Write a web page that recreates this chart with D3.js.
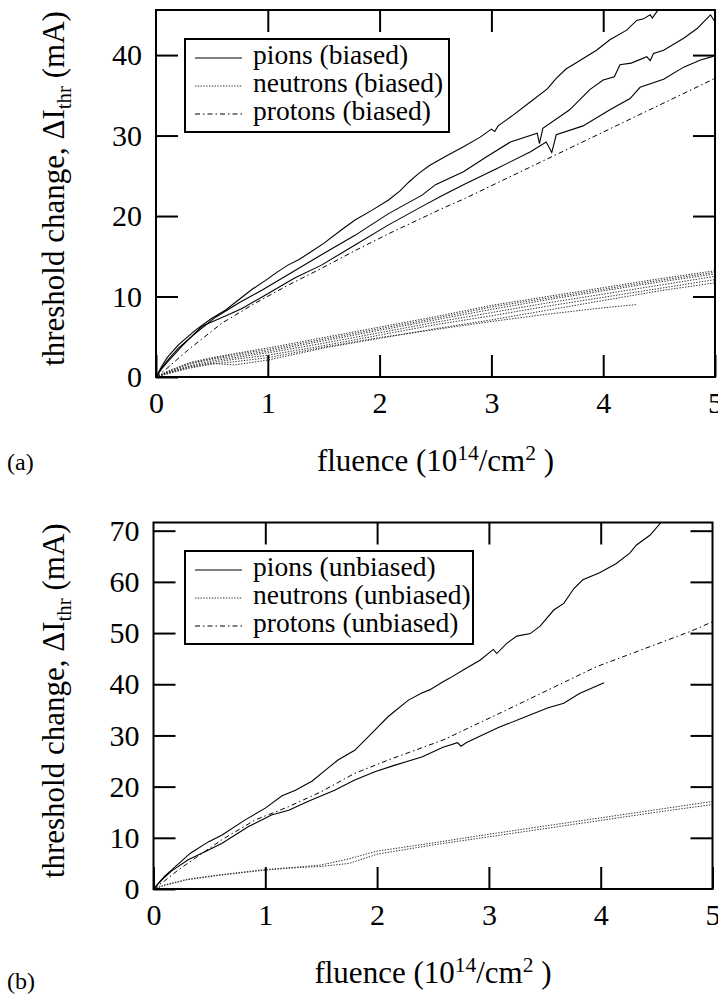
<!DOCTYPE html>
<html><head><meta charset="utf-8">
<script src="https://cdn.jsdelivr.net/npm/d3@7"></script>
<style>
body{margin:0;background:#fff}
svg{display:block}
svg text{font-family:"Liberation Serif",serif}
</style>
</head><body>
<svg id="c" width="718" height="995"></svg>
<script>
// ---------- tick labels ----------
const xTicks = [0, 1, 2, 3, 4, 5];
const yTicksA = [0, 10, 20, 30, 40];
const yTicksB = [0, 10, 20, 30, 40, 50, 60, 70];

// ---------- panel (a): biased ----------
const legendA = ["pions (biased)", "neutrons (biased)", "protons (biased)"];
const pionsBiased1 = [[0,0],[0.05,1.3],[0.1,2.4],[0.2,4.0],[0.35,5.8],[0.5,7.3],[0.62,8.3],[0.74,9.6],[0.86,10.9],[0.98,12.0],[1.08,13.0],[1.18,13.9],[1.28,14.6],[1.39,15.6],[1.5,16.6],[1.66,18.3],[1.78,19.5],[1.93,20.7],[2.08,22.0],[2.18,23.1],[2.26,24.2],[2.35,25.3],[2.45,26.3],[2.6,27.5],[2.75,28.6],[2.9,29.8],[3.0,30.8],[3.03,30.5],[3.06,31.2],[3.2,32.6],[3.35,34.2],[3.5,35.8],[3.58,37.1],[3.67,38.3],[3.73,38.8],[3.94,40.6],[4.06,41.9],[4.21,43.1],[4.3,44.3],[4.36,44.5],[4.42,45.0],[4.44,44.6],[4.48,45.4],[4.52,46.2]];
const pionsBiased2 = [[0,0],[0.05,1.1],[0.1,2.0],[0.2,3.6],[0.35,5.4],[0.53,7.4],[0.74,9.2],[0.95,10.8],[1.18,12.7],[1.48,15.2],[1.78,17.6],[2.08,20.3],[2.38,22.6],[2.5,23.9],[2.75,25.5],[2.95,27.3],[3.17,29.2],[3.41,30.3],[3.43,29.0],[3.46,30.9],[3.7,33.2],[3.88,35.7],[4.0,36.9],[4.1,37.3],[4.15,38.8],[4.25,39.0],[4.39,39.8],[4.42,39.3],[4.45,40.2],[4.54,40.6],[4.72,42.1],[4.84,43.3],[4.96,45.0],[5.0,44.1]];
const pionsBiased3 = [[0,0],[0.05,1.0],[0.1,1.8],[0.23,3.8],[0.41,6.3],[0.56,7.2],[0.77,8.5],[0.98,10.2],[1.24,12.3],[1.48,13.9],[1.78,16.4],[2.08,18.9],[2.38,21.2],[2.57,22.6],[2.75,23.9],[3.05,25.9],[3.35,28.0],[3.49,29.2],[3.54,27.9],[3.58,30.1],[3.82,31.2],[4.06,33.2],[4.24,34.6],[4.33,36.0],[4.54,37.0],[4.72,38.5],[4.87,39.4],[5.0,39.9]];
const protonsBiased = [[0,0],[0.1,1.1],[0.29,3.4],[0.59,6.7],[0.89,9.2],[1.18,11.4],[1.48,13.5],[1.78,15.7],[2.08,17.8],[2.57,21.0],[2.75,22.1],[3.5,27.1],[4.25,32.1],[5.0,37.1]];
const neutronFluence = [0,0.1,0.3,0.5,0.7,1,1.5,2,2.5,3,3.5,4,4.5,5];
const neutronsBiased1 = [0,0.7,1.8,2.4,2.9,3.6,4.9,6.2,7.5,8.9,10.0,11.1,12.2,13.2];
const neutronsBiased2 = [0,0.6,1.7,2.3,2.8,3.4,4.7,6.0,7.3,8.7,9.8,10.9,12.0,13.0];
const neutronsBiased3 = [0,0.6,1.6,2.2,2.6,3.2,4.5,5.8,7.1,8.4,9.6,10.7,11.8,12.8];
const neutronsBiased4 = [0,0.5,1.4,2.0,2.4,3.0,4.2,5.5,6.8,8.0,9.2,10.3,11.4,12.5];
const neutronsBiased5 = [0,0.5,1.3,1.8,2.2,2.7,3.9,5.2,6.5,7.6,8.8,9.9,11.0,12.1];
const neutronsBiased6 = [0,0.4,1.2,1.7,1.5,2.1,3.6,4.8,6.0,7.1,8.3,9.5,10.7,11.7];
const neutronFluence7 = [0,0.1,0.3,0.5,0.7,1,1.5,2,2.5,3,3.5,4,4.3];
const neutronsBiased7 = [0,0.4,1.1,1.6,1.9,2.4,3.7,4.9,5.9,6.9,7.8,8.6,9.0];

// ---------- panel (b): unbiased ----------
const legendB = ["pions (unbiased)", "neutrons (unbiased)", "protons (unbiased)"];
const pionsUnbiased1 = [[0,0],[0.05,1.3],[0.1,2.5],[0.16,3.7],[0.33,7.0],[0.49,9.2],[0.61,10.5],[0.82,13.5],[1.0,15.8],[1.15,18.2],[1.27,19.3],[1.42,21.1],[1.56,23.6],[1.65,25.2],[1.8,27.1],[1.92,29.7],[2.1,33.7],[2.28,36.9],[2.4,38.3],[2.47,38.9],[2.59,40.5],[2.65,41.2],[2.77,42.8],[2.92,44.7],[3.04,46.8],[3.07,46.0],[3.16,48.0],[3.25,49.4],[3.37,49.9],[3.46,51.4],[3.58,54.5],[3.67,55.8],[3.76,58.7],[3.84,60.4],[3.99,61.8],[4.14,63.6],[4.26,65.6],[4.32,67.2],[4.44,69.1],[4.53,71.4],[4.58,72.5]];
const pionsUnbiased2 = [[0,0],[0.05,1.2],[0.1,2.3],[0.16,3.5],[0.31,5.7],[0.46,7.3],[0.61,8.9],[0.85,12.2],[1.06,14.5],[1.21,15.4],[1.38,17.1],[1.62,19.3],[1.8,21.3],[1.98,22.9],[2.16,24.2],[2.4,25.8],[2.59,27.7],[2.72,28.6],[2.75,27.9],[2.8,28.6],[3.08,31.5],[3.3,33.4],[3.53,35.4],[3.67,36.3],[3.81,38.2],[4.03,40.3]];
const protonsUnbiased = [[0,0],[0.1,1.6],[0.22,3.7],[0.61,9.6],[0.91,13.5],[1.21,16.1],[1.5,19.0],[1.8,22.6],[2.1,25.2],[2.59,29.1],[3.16,35.0],[3.96,43.4],[4.8,50.3],[5.0,52.2]];
const neutronFluenceB = [0,0.1,0.3,0.6,1.0,1.3,1.5,1.75,2.0,2.5,3.0,3.5,4.0,4.5,5.0];
const neutronsUnbiased1 = [0,0.8,1.9,2.8,3.8,4.3,4.7,5.9,7.4,9.0,10.7,12.3,13.9,15.5,17.1];
const neutronsUnbiased2 = [0,0.7,1.8,2.7,3.7,4.2,4.4,5.0,6.8,8.6,10.2,11.8,13.4,15.0,16.5];

const zipN = (fl, vals) => vals.map((v, i) => [fl[i], v]);

const FONT = "Liberation Serif";
const svg = d3.select("#c");
const styles = {
  pion: {stroke: "#000", width: 1.1, dash: null},
  neutron: {stroke: "#333", width: 1, dash: "1.4,1.4"},
  proton: {stroke: "#000", width: 1, dash: "5,3,1.5,3"}
};

function panel(cfg) {
  const g = svg.append("g");
  const x = d3.scaleLinear().domain([0, 5]).range([cfg.left, cfg.right]);
  const y = d3.scaleLinear().domain([0, cfg.ymax]).range([cfg.bottom, cfg.top]);
  const clipId = "clip" + cfg.id;
  g.append("clipPath").attr("id", clipId).append("rect")
    .attr("x", cfg.left).attr("y", cfg.top)
    .attr("width", cfg.right - cfg.left).attr("height", cfg.bottom - cfg.top);

  const line = d3.line().x(d => x(d[0])).y(d => y(d[1]));
  const lines = g.append("g").attr("clip-path", `url(#${clipId})`);
  cfg.series.forEach(s => {
    const st = styles[s.type];
    lines.append("path").attr("d", line(s.data))
      .attr("fill", "none").attr("stroke", st.stroke)
      .attr("stroke-width", st.width)
      .attr("stroke-dasharray", st.dash);
  });

  const tickStyle = sel => {
    sel.attr("font-family", FONT).attr("font-size", 30);
    sel.select(".domain").remove();
    sel.selectAll(".tick line").attr("stroke", "#000").attr("stroke-width", 2);
    sel.selectAll("text").attr("font-family", FONT).attr("font-size", 30).attr("fill", "#000");
  };
  g.append("g").attr("transform", `translate(0,${cfg.bottom})`)
    .call(d3.axisBottom(x).tickValues(xTicks).tickSize(-22).tickPadding(15).tickFormat(d3.format("d")))
    .call(tickStyle);
  g.append("g").attr("transform", `translate(0,${cfg.top})`)
    .call(d3.axisTop(x).tickValues(xTicks.slice(1, -1)).tickSize(-22).tickFormat(""))
    .call(tickStyle);
  g.append("g").attr("transform", `translate(${cfg.left},0)`)
    .call(d3.axisLeft(y).tickValues(cfg.yTicks).tickSize(-22).tickPadding(14).tickFormat(d3.format("d")))
    .call(tickStyle);
  g.append("g").attr("transform", `translate(${cfg.right},0)`)
    .call(d3.axisRight(y).tickValues(cfg.yTicks.slice(1)).tickSize(-22).tickFormat(""))
    .call(tickStyle);

  g.append("rect").attr("x", cfg.left).attr("y", cfg.top)
    .attr("width", cfg.right - cfg.left).attr("height", cfg.bottom - cfg.top)
    .attr("fill", "none").attr("stroke", "#000").attr("stroke-width", 2);

  // legend
  const lg = g.append("g");
  lg.append("rect").attr("x", cfg.legX).attr("y", cfg.legY)
    .attr("width", cfg.legW).attr("height", 93)
    .attr("fill", "#fff").attr("stroke", "#000").attr("stroke-width", 2);
  const types = ["pion", "neutron", "proton"];
  cfg.legend.forEach((lab, i) => {
    const yy = cfg.legY + 19 + i * 28;
    const st = styles[types[i]];
    lg.append("line").attr("x1", cfg.legX + 10).attr("x2", cfg.legX + 57)
      .attr("y1", yy).attr("y2", yy)
      .attr("stroke", st.stroke).attr("stroke-width", st.width)
      .attr("stroke-dasharray", st.dash);
    lg.append("text").attr("x", cfg.legX + 68).attr("y", yy + 6)
      .attr("font-family", FONT).attr("font-size", 27.5).text(lab);
  });

  // axis titles
  const xt = g.append("text").attr("x", (cfg.left + cfg.right) / 2).attr("y", cfg.bottom + 94)
    .attr("text-anchor", "middle").attr("font-family", FONT).attr("font-size", 31);
  xt.append("tspan").text("fluence (10");
  xt.append("tspan").attr("dy", -11).attr("font-size", 21.5).text("14");
  xt.append("tspan").attr("dy", 11).text("/cm");
  xt.append("tspan").attr("dy", -11).attr("font-size", 21.5).text("2");
  xt.append("tspan").attr("dy", 11).text(" )");

  const yt = g.append("text")
    .attr("transform", `translate(64,${(cfg.top + cfg.bottom) / 2 - 5}) rotate(-90)`)
    .attr("text-anchor", "middle").attr("font-family", FONT).attr("font-size", 31);
  yt.append("tspan").text("threshold change, \u0394I");
  yt.append("tspan").attr("dy", 7).attr("font-size", 21).text("thr");
  yt.append("tspan").attr("dy", -7).text(" (mA)");

  g.append("text").attr("x", 7).attr("y", cfg.labelY)
    .attr("font-family", FONT).attr("font-size", 24).text(cfg.label);
}

panel({
  id: "a", left: 156, right: 715, top: 10, bottom: 377, ymax: 45.6, yTicks: yTicksA,
  legX: 185, legY: 39, legW: 264, legend: legendA, label: "(a)", labelY: 470,
  series: [
    {type: "neutron", data: zipN(neutronFluence, neutronsBiased1)},
    {type: "neutron", data: zipN(neutronFluence, neutronsBiased2)},
    {type: "neutron", data: zipN(neutronFluence, neutronsBiased3)},
    {type: "neutron", data: zipN(neutronFluence, neutronsBiased4)},
    {type: "neutron", data: zipN(neutronFluence, neutronsBiased5)},
    {type: "neutron", data: zipN(neutronFluence, neutronsBiased6)},
    {type: "neutron", data: zipN(neutronFluence7, neutronsBiased7)},
    {type: "proton", data: protonsBiased},
    {type: "pion", data: pionsBiased1},
    {type: "pion", data: pionsBiased2},
    {type: "pion", data: pionsBiased3}
  ]
});

panel({
  id: "b", left: 153.5, right: 712.5, top: 522.5, bottom: 889, ymax: 71.6, yTicks: yTicksB,
  legX: 185, legY: 551, legW: 288, legend: legendB, label: "(b)", labelY: 989,
  series: [
    {type: "neutron", data: zipN(neutronFluenceB, neutronsUnbiased1)},
    {type: "neutron", data: zipN(neutronFluenceB, neutronsUnbiased2)},
    {type: "proton", data: protonsUnbiased},
    {type: "pion", data: pionsUnbiased1},
    {type: "pion", data: pionsUnbiased2}
  ]
});
</script>
</body></html>
